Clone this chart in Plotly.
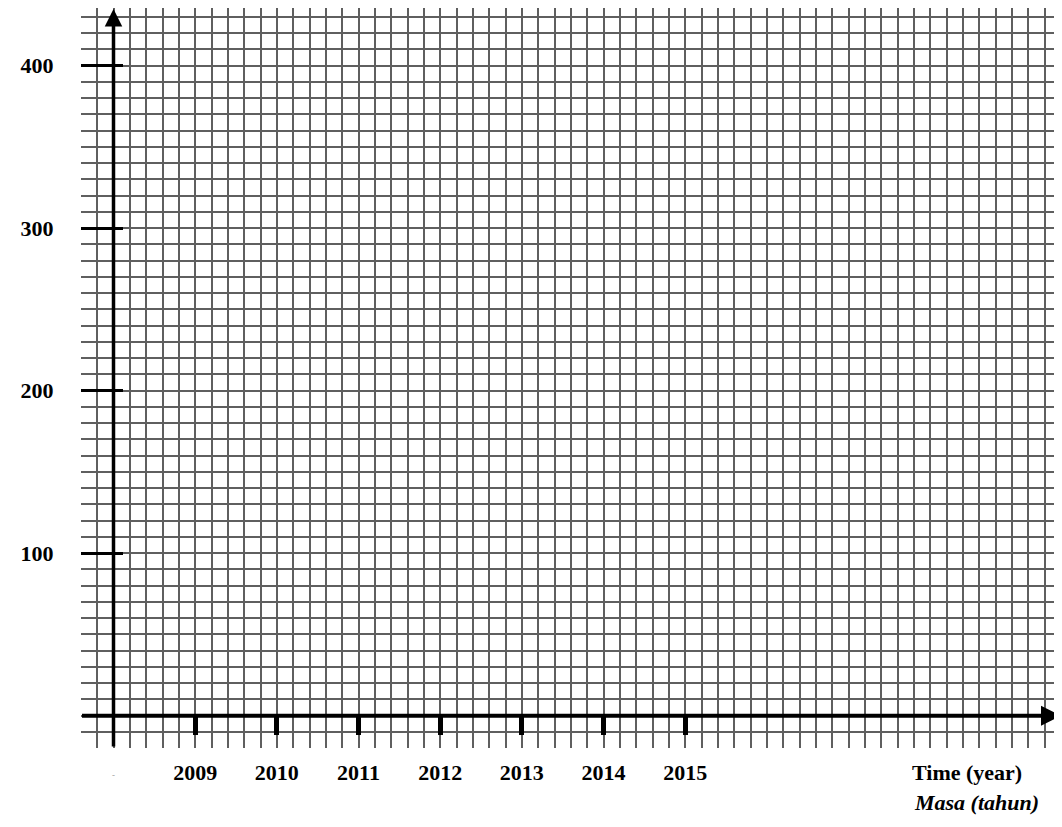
import plotly.graph_objects as go

# ---- data / labels ----
years = [2009, 2010, 2011, 2012, 2013, 2014, 2015]
year_labels = ["2009", "2010", "2011", "2012", "2013", "2014", "2015"]
y_ticks = [100, 200, 300, 400]
y_tick_labels = ["100", "200", "300", "400"]
x_title = "Time (year)"
x_title_ms = "Masa (tahun)"
origin_year = 2008
grid_x_step = 0.2
grid_y_step = 10

# ---- layout geometry (pixels, page coords; page body has an 8px margin) ----
OFF = 8
W, H = 1062 - OFF, 827 - OFF
px_left, px_right = 80.5 - OFF, 1062 - OFF
py_top, py_bot = 8 - OFF, 748 - OFF
px_per_year = 81.67
px_origin = 113.5 - OFF
py_zero = 715.7 - OFF
px_per_unit = 1.625

xr0 = origin_year + (px_left - px_origin) / px_per_year
xr1 = origin_year + (px_right - px_origin) / px_per_year
yr0 = (py_zero - py_bot) / px_per_unit
yr1 = (py_zero - py_top) / px_per_unit
xdom = [px_left / W, 1.0]
ydom = [1 - py_bot / H, 1.0]
zero_paper = 1 - py_zero / H
x_tip = origin_year + (1061 - OFF - px_origin) / px_per_year
y_tip = (py_zero - (9 - OFF)) / px_per_unit

GRID = "#5f5f5f"
GW = 1.8
FONT = "Liberation Serif"

fig = go.Figure()
fig.add_trace(go.Scatter(x=[None], y=[None], showlegend=False, hoverinfo="skip"))

fig.update_layout(
    width=W, height=H,
    margin=dict(l=0, r=0, t=0, b=0),
    paper_bgcolor="white", plot_bgcolor="white",
    showlegend=False,
    xaxis=dict(
        domain=xdom, range=[xr0, xr1],
        anchor="free", position=zero_paper,
        tickmode="array", tickvals=years, ticktext=year_labels,
        ticks="outside", ticklen=18, tickwidth=5, tickcolor="black",
        ticklabelstandoff=19,
        tickfont=dict(family=FONT, size=22, color="black", weight="bold"),
        showgrid=True, gridcolor=GRID, gridwidth=GW,
        minor=dict(tick0=origin_year, dtick=grid_x_step, showgrid=True,
                   gridcolor=GRID, gridwidth=GW, ticks=""),
        showline=False, zeroline=False, fixedrange=True,
    ),
    yaxis=dict(
        domain=ydom, range=[yr0, yr1],
        anchor="x",
        tickmode="array", tickvals=y_ticks, ticktext=y_tick_labels,
        ticks="inside", ticklen=42, tickwidth=3, tickcolor="black",
        ticklabelstandoff=26,
        tickfont=dict(family=FONT, size=22, color="black", weight="bold"),
        showgrid=True, gridcolor=GRID, gridwidth=GW,
        minor=dict(tick0=0, dtick=grid_y_step, showgrid=True,
                   gridcolor=GRID, gridwidth=GW, ticks=""),
        showline=False, zeroline=False, fixedrange=True,
    ),
)

annotations = [
    # y axis with arrow
    dict(x=origin_year, y=y_tip, ax=origin_year, ay=yr0, xref="x", yref="y",
         axref="x", ayref="y", text="", showarrow=True, arrowhead=2,
         arrowsize=1, arrowwidth=3.5, arrowcolor="black", standoff=0),
    # x axis with arrow
    dict(x=x_tip, y=0, ax=xr0, ay=0, xref="x", yref="y",
         axref="x", ayref="y", text="", showarrow=True, arrowhead=2,
         arrowsize=1, arrowwidth=4, arrowcolor="black", standoff=0),
    dict(x=origin_year, y=0, xref="x", yref="y", yshift=-59, text="-",
         showarrow=False, font=dict(family=FONT, size=9, color="#999999")),
    dict(x=(967 - OFF) / W, y=1 - (772 - OFF) / H, xref="paper", yref="paper",
         text=x_title, showarrow=False, xanchor="center", yanchor="middle",
         font=dict(family=FONT, size=22, color="black", weight="bold")),
    dict(x=(976 - OFF) / W, y=1 - (802 - OFF) / H, xref="paper", yref="paper",
         text="<i>" + x_title_ms + "</i>",
         showarrow=False, xanchor="center", yanchor="middle",
         font=dict(family=FONT, size=22, color="black", weight="bold")),
]
fig.update_layout(annotations=annotations)

fig.write_html("out.html")
